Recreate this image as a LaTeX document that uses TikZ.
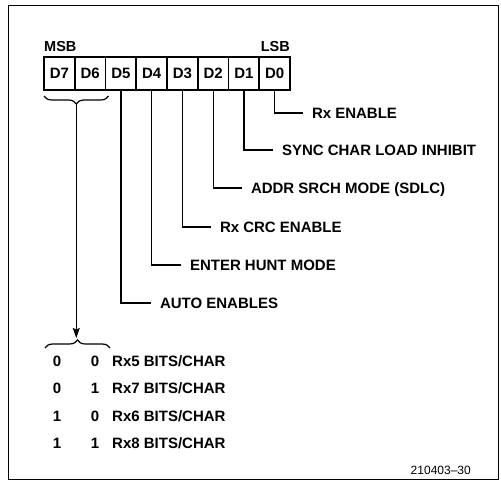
\documentclass[tikz,border=0pt]{standalone}
\usepackage{fontspec}
\setmainfont{Liberation Sans}
\usetikzlibrary{arrows.meta,positioning,decorations.pathreplacing}

\begin{document}
\begin{tikzpicture}[x=1pt, y=1pt, >=Stealth,
  cell/.style={draw, line width=1.6pt, outer sep=0pt, inner sep=0pt, minimum width=30.75pt, minimum height=33pt, font=\fontsize{15}{17}\selectfont\bfseries},
  tag/.style={inner sep=0pt, text depth=0pt, font=\fontsize{14.5}{16}\selectfont\bfseries},
  lbl/.style={anchor=west, inner ysep=0pt, inner xsep=9pt, outer sep=0pt, text height=10.7pt, text depth=0pt, font=\fontsize{15}{17}\selectfont\bfseries},
  bit/.style={inner sep=0pt, text height=10.7pt, text depth=0pt, font=\fontsize{15}{17}\selectfont\bfseries},
  wire/.style={line width=1.2pt},
  brc/.style={decorate, decoration={brace, amplitude=8pt}, line width=1.2pt}]
\useasboundingbox (0,0) rectangle (501,489);
\draw[line width=1pt] (8,9) rectangle (498,483);
% register bits
\node[cell] (d7) at (59.4,415.5) {D7};
\node[cell, right=0pt of d7] (d6) {D6};
\node[cell, right=0pt of d6] (d5) {D5};
\node[cell, right=0pt of d5] (d4) {D4};
\node[cell, right=0pt of d4] (d3) {D3};
\node[cell, right=0pt of d3] (d2) {D2};
\node[cell, right=0pt of d2] (d1) {D1};
\node[cell, right=0pt of d1] (d0) {D0};
\node[tag, above=5pt of d7.north west, anchor=south west] (msb) {MSB};
\node[tag, above=5pt of d0.north east, anchor=south east] (lsb) {LSB};
% bit functions
\node[lbl] (rxen) at (303,376) {Rx ENABLE};
\draw[wire] (d0.south) |- (rxen.west);
\node[lbl] (sync) at (273,339) {SYNC CHAR LOAD INHIBIT};
\draw[wire] (d1.south) |- (sync.west);
\node[lbl] (addr) at (242,301) {ADDR SRCH MODE (SDLC)};
\draw[wire] (d2.south) |- (addr.west);
\node[lbl] (crc) at (211,262) {Rx CRC ENABLE};
\draw[wire] (d3.south) |- (crc.west);
\node[lbl] (hunt) at (181,224) {ENTER HUNT MODE};
\draw[wire] (d4.south) |- (hunt.west);
\node[lbl] (aen) at (151,186) {AUTO ENABLES};
\draw[wire] (d5.south) |- (aen.west);
% D7 D6 code
\draw[brc] ([xshift=3pt,yshift=-6pt]d6.south east) -- ([yshift=-6pt]d7.south west);
\coordinate (btop) at ([xshift=1.5pt,yshift=-14pt]d7.south east);
\draw[brc] (45,141) -- (110,141);
\coordinate (bbot) at (77.5,149);
\draw[wire, -{Stealth[length=10pt, width=7pt, inset=1.5pt]}, shorten >=2pt] (btop) -- (btop |- bbot);
\node[bit] (a0) at (57,128) {0};
\node[bit] (b0) at (95,128) {0};
\node[bit, anchor=west] (t0) at (112,128) {Rx5 BITS/CHAR};
\node[bit] (a1) at (57,101) {0};
\node[bit] (b1) at (95,101) {1};
\node[bit, anchor=west] (t1) at (112,101) {Rx7 BITS/CHAR};
\node[bit] (a2) at (57,73) {1};
\node[bit] (b2) at (95,73) {0};
\node[bit, anchor=west] (t2) at (112,73) {Rx6 BITS/CHAR};
\node[bit] (a3) at (57,46) {1};
\node[bit] (b3) at (95,46) {1};
\node[bit, anchor=west] (t3) at (112,46) {Rx8 BITS/CHAR};
\node[anchor=base east, inner sep=0pt, font=\fontsize{12}{14}\selectfont] (fig) at (471,14) {210403--30};
\end{tikzpicture}
\end{document}
